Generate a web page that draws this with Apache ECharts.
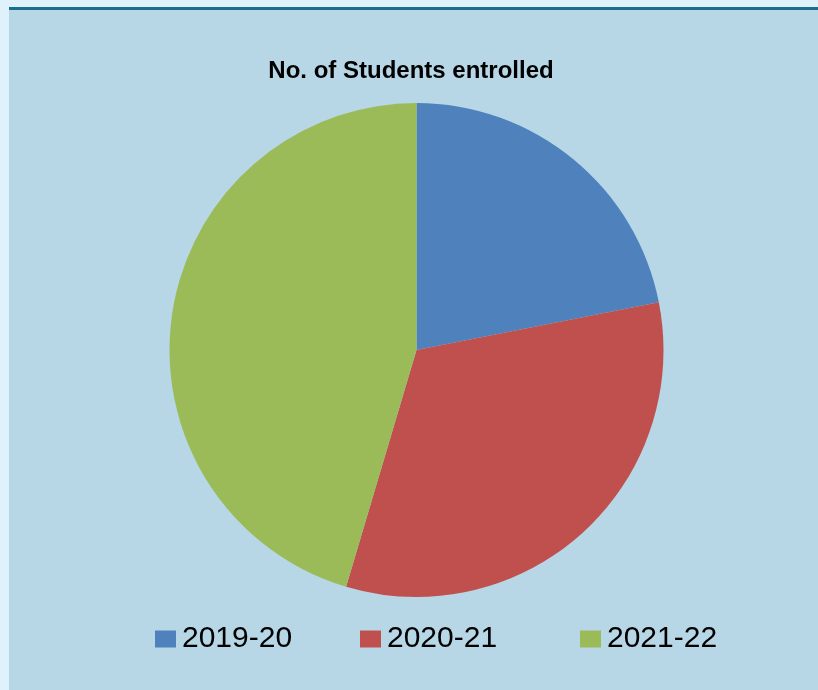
<!DOCTYPE html>
<html>
<head>
<meta charset="utf-8">
<script src="https://cdn.jsdelivr.net/npm/echarts@6/dist/echarts.min.js"></script>
<style>
html,body{margin:0;padding:0;background:#dff1fa;}
#main{width:818px;height:690px;}
</style>
</head>
<body>
<div id="main"></div>
<script>
const titleText = 'No. of Students entrolled';
const categories = ['2019-20', '2020-21', '2021-22'];
const values = [219, 327, 454];
const colors = ['#4f81bd', '#c0504d', '#9bbb59'];
const legendLefts = [155, 360, 580];

const chart = echarts.init(document.getElementById('main'));
chart.setOption({
  backgroundColor: '#dff1fa',
  animation: false,
  graphic: [
    { type: 'rect', shape: { x: 9, y: 10, width: 809, height: 680 }, style: { fill: '#b7d7e7' }, z: -10 },
    { type: 'rect', shape: { x: 9, y: 7, width: 809, height: 3 }, style: { fill: '#1b6d8c' }, z: -9 }
  ],
  title: {
    text: titleText,
    left: 406,
    textAlign: 'center',
    top: 54,
    textStyle: { fontFamily: 'Liberation Sans', fontWeight: 'bold', fontSize: 24, color: '#000' }
  },
  legend: categories.map((c, i) => ({
    data: [c],
    left: legendLefts[i],
    top: 624,
    padding: 0,
    itemWidth: 21,
    itemHeight: 17,
    icon: 'rect',
    selectedMode: false,
    textStyle: { fontFamily: 'Liberation Sans', fontSize: 30, color: '#000', padding: [0, 0, 0, 1] }
  })),
  series: [{
    type: 'pie',
    center: [416.5, 350],
    radius: [0, 247],
    startAngle: 90,
    clockwise: true,
    label: { show: false },
    labelLine: { show: false },
    emphasis: { disabled: true },
    itemStyle: { borderWidth: 0 },
    data: categories.map((c, i) => ({ name: c, value: values[i], itemStyle: { color: colors[i] } }))
  }]
});
</script>
</body>
</html>
